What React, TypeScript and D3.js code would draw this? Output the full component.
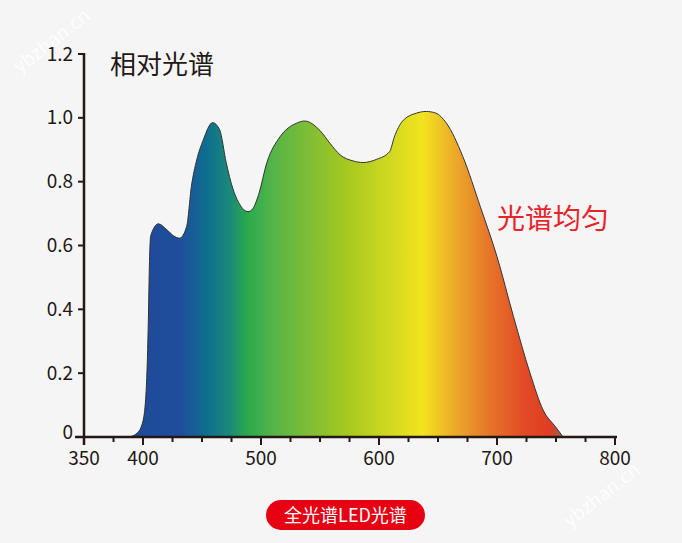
import * as d3 from 'd3';

// spectrum samples (wavelength nm, relative intensity)
const wavelengths = [
  388, 395, 400, 403, 404.5, 405.5, 406.5, 413, 420, 426, 431, 437, 441, 445.5, 451, 459, 465,
  470.5, 476, 481, 485.5, 489, 493, 498, 505, 516, 530, 537, 550, 558.5, 567, 578, 586.5, 598, 609,
  613, 620, 632, 640, 648, 657, 671, 686, 700, 714, 728, 739, 750, 756,
];
const intensity = [
  0, 0.012, 0.05, 0.17, 0.36, 0.55, 0.63, 0.668, 0.65, 0.63, 0.623, 0.66, 0.785, 0.868, 0.93,
  0.985, 0.962, 0.86, 0.78, 0.735, 0.712, 0.706, 0.715, 0.76, 0.86, 0.94, 0.983, 0.99, 0.96, 0.92,
  0.884, 0.865, 0.86, 0.87, 0.894, 0.94, 0.99, 1.015, 1.02, 1.015, 0.984, 0.879, 0.72, 0.565, 0.377,
  0.2, 0.085, 0.03, 0,
];

const xLabelTicks = [350, 400, 500, 600, 700, 800];
const xMinorTicks = d3.range(350, 801, 25);
const yTicks = [0, 0.2, 0.4, 0.6, 0.8, 1.0, 1.2];
const yTickLabels = ['0', '0.2', '0.4', '0.6', '0.8', '1.0', '1.2'];

// colour stops of the fill, by wavelength
const stopNm = [400, 431, 454, 474, 488, 510, 539, 573, 603, 637, 666, 694, 722, 746, 756];
const stopColor = [
  '#1f4a9a', '#1f4e9c', '#0f6e8f', '#1a8a78', '#28a94e', '#55b449', '#7dbd35', '#a6c91f',
  '#c9d620', '#f3e31f', '#eba72a', '#e6742a', '#e24c26', '#e03c24', '#8a6a58',
];

const font = '"Noto Sans CJK SC", "Noto Sans", sans-serif';

export default function App() {
  const width = 682;
  const height = 543;

  const x = d3.scaleLinear().domain([350, 800]).range([84, 615]);
  const y = d3.scaleLinear().domain([0, 1.2]).range([437, 54]);

  const pts = wavelengths.map((w, i) => [w, intensity[i]] as [number, number]);
  const area = d3
    .area<[number, number]>()
    .x((d) => x(d[0]))
    .y0(y(0))
    .y1((d) => y(d[1]))
    .curve(d3.curveMonotoneX);
  const line = d3
    .line<[number, number]>()
    .x((d) => x(d[0]))
    .y((d) => y(d[1]))
    .curve(d3.curveMonotoneX);

  const axisColor = '#231815';

  return (
    <svg
      width={width}
      height={height}
      style={{ position: 'absolute', left: 0, top: 0, display: 'block', background: '#f5f5f5' }}
    >
      <defs>
        <linearGradient id="spec" gradientUnits="userSpaceOnUse" x1={x(400)} x2={x(756)} y1={0} y2={0}>
          {stopNm.map((n, i) => (
            <stop key={i} offset={(n - 400) / (756 - 400)} stopColor={stopColor[i]} />
          ))}
        </linearGradient>
      </defs>

      {/* watermarks */}
      <text x={20} y={74} transform="rotate(-38 20 74)" fill="#ffffff" fontFamily={font} fontSize={19} opacity={0.9}>
        ybzhan.cn
      </text>
      <text x={570} y={528} transform="rotate(-38 570 528)" fill="#ffffff" fontFamily={font} fontSize={19} opacity={0.9}>
        ybzhan.cn
      </text>

      {/* spectrum */}
      <path d={area(pts) ?? ''} fill="url(#spec)" />
      <path d={line(pts) ?? ''} fill="none" stroke="#333" strokeWidth={1} />

      {/* y axis */}
      <line x1={x(350)} x2={x(350)} y1={y(1.2) - 1} y2={y(0) + 8} stroke={axisColor} strokeWidth={2.5} />
      {yTicks.map((t, i) => (
        <g key={t}>
          <line x1={x(350) - 6} x2={x(350)} y1={y(t)} y2={y(t)} stroke={axisColor} strokeWidth={2} />
          <text
            x={73}
            y={y(t) - (t === 0 ? 5 : 0)}
            dy="0.35em"
            textAnchor="end"
            fontFamily={font}
            fontSize={19}
            fill="#231815"
          >
            {yTickLabels[i]}
          </text>
        </g>
      ))}

      {/* x axis */}
      <line x1={75} x2={617} y1={y(0)} y2={y(0)} stroke={axisColor} strokeWidth={2.5} />
      {xMinorTicks.map((t) => (
        <line
          key={t}
          x1={x(t)}
          x2={x(t)}
          y1={y(0)}
          y2={y(0) + (xLabelTicks.includes(t) ? 8 : 5)}
          stroke={axisColor}
          strokeWidth={2}
        />
      ))}
      {xLabelTicks.map((t) => (
        <text key={t} x={x(t)} y={465} textAnchor="middle" fontFamily={font} fontSize={19} fill="#231815">
          {t}
        </text>
      ))}

      {/* titles */}
      <text x={110} y={74} fontFamily={font} fontSize={26} fill="#231815">
        相对光谱
      </text>
      <text x={497} y={229} fontFamily={font} fontSize={28} fill="#e8242b">
        光谱均匀
      </text>

      {/* badge */}
      <rect x={266} y={500} width={159} height={30} rx={15} fill="#e60012" />
      <text x={345.5} y={521.5} textAnchor="middle" fontFamily={font} fontSize={18} fill="#ffffff">
        全光谱LED光谱
      </text>
    </svg>
  );
}
